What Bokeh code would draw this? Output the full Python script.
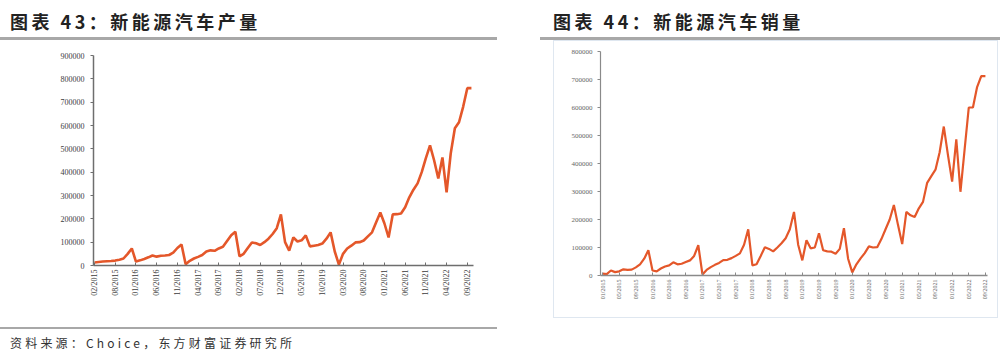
import math
from bokeh.plotting import figure
from bokeh.layouts import column, row
from bokeh.models import Div, Spacer, Range1d, FixedTicker, BasicTickFormatter
from bokeh.embed import file_html
from bokeh.resources import INLINE

# ---------------- data ----------------
prod_title = "图表 43：新能源汽车产量"
sales_title = "图表 44：新能源汽车销量"
source_text = "资料来源：Choice，东方财富证券研究所"

prod_values = [
    13000, 15000, 17000, 18000, 19000, 21000, 25000, 30000, 50000, 73000,
    17000, 22000, 28000, 35000, 43000, 38000, 42000, 43000, 45000, 55000,
    75000, 90000, 5000, 20000, 30000, 37000, 45000, 60000, 65000, 63000,
    73000, 80000, 105000, 130000, 145000, 39000, 50000, 75000, 99000, 95000,
    88000, 100000, 115000, 135000, 160000, 219000, 100000, 64000, 120000, 103000,
    108000, 129000, 82000, 85000, 88000, 94000, 115000, 142000, 60000, 4000,
    50000, 73000, 85000, 99000, 100000, 107000, 125000, 142000, 185000, 227000,
    180000, 120000, 219000, 220000, 223000, 250000, 292000, 325000, 352000, 400000,
    460000, 515000, 450000, 373000, 463000, 313000, 480000, 588000, 614000, 680000,
    760000, 760000,
]
prod_tick_labels = [
    "02/2015", "08/2015", "01/2016", "06/2016", "11/2016", "04/2017", "09/2017",
    "02/2018", "07/2018", "12/2018", "05/2019", "10/2019", "03/2020", "08/2020",
    "01/2021", "06/2021", "11/2021", "04/2022", "09/2022",
]
prod_y_ticks = [0, 100000, 200000, 300000, 400000, 500000, 600000, 700000, 800000, 900000]

sales_values = [
    7000, 5000, 18000, 12000, 15000, 22000, 20000, 21000, 29000, 40000,
    60000, 90000, 18000, 15000, 25000, 32000, 36000, 47000, 40000, 42000,
    48000, 54000, 70000, 108000, 4000, 20000, 30000, 38000, 45000, 55000,
    56000, 62000, 70000, 79000, 110000, 165000, 36000, 40000, 70000, 101000,
    95000, 86000, 100000, 115000, 133000, 165000, 227000, 110000, 54000, 126000,
    97000, 100000, 151000, 90000, 86000, 85000, 78000, 95000, 169000, 60000,
    11000, 40000, 61000, 80000, 104000, 100000, 101000, 130000, 165000, 200000,
    252000, 180000, 112000, 227000, 215000, 209000, 240000, 263000, 331000, 355000,
    378000, 440000, 532000, 430000, 335000, 486000, 299000, 450000, 600000, 600000,
    673000, 712000, 712000,
]
sales_tick_labels = [
    "01/2015", "05/2015", "09/2015", "01/2016", "05/2016", "09/2016",
    "01/2017", "05/2017", "09/2017", "01/2018", "05/2018", "09/2018",
    "01/2019", "05/2019", "09/2019", "01/2020", "05/2020", "09/2020",
    "01/2021", "05/2021", "09/2021", "01/2022", "05/2022", "09/2022",
]
sales_y_ticks = [0, 100000, 200000, 300000, 400000, 500000, 600000, 700000, 800000]

LINE_COLOR = "#E4572A"


def style_axes(p, label_font_size, axis_color, label_color):
    p.xgrid.visible = False
    p.ygrid.visible = False
    p.outline_line_color = None
    for ax in (p.xaxis[0], p.yaxis[0]):
        ax.axis_line_color = axis_color
        ax.major_tick_line_color = axis_color
        ax.minor_tick_line_color = None
        ax.major_label_text_font = "Liberation Serif"
        ax.major_label_text_font_size = label_font_size
        ax.major_label_text_color = label_color
        ax.axis_label_text_font_size = "0px"
        ax.axis_label_standoff = 0
    p.yaxis[0].major_tick_in = 0
    p.yaxis[0].major_tick_out = 3
    p.xaxis[0].major_tick_in = 3
    p.xaxis[0].major_tick_out = 0
    p.xaxis[0].major_label_orientation = math.pi / 2
    p.yaxis[0].formatter = BasicTickFormatter(use_scientific=False)


# ---------------- left chart: production ----------------
x1 = list(range(len(prod_values)))
p1 = figure(frame_width=380, frame_height=210, output_backend="svg",
            toolbar_location=None, title=None, margin=0,
            x_range=Range1d(-0.25, len(prod_values) - 0.5),
            y_range=Range1d(0, prod_y_ticks[-1]),
            min_border_left=93, min_border_right=27, min_border_top=15,
            min_border_bottom=58)
p1.line(x1, prod_values, line_color=LINE_COLOR, line_width=2.6)
style_axes(p1, "8px", "#6e6e6e", "#3c3c3c")
p1.xaxis[0].axis_line_width = 1.5
p1.yaxis[0].axis_line_width = 1.5
p1.xaxis[0].ticker = FixedTicker(ticks=[i * 5 for i in range(len(prod_tick_labels))])
p1.xaxis[0].major_label_overrides = {i * 5: s for i, s in enumerate(prod_tick_labels)}
p1.xaxis[0].major_label_standoff = 4
p1.yaxis[0].ticker = FixedTicker(ticks=prod_y_ticks)
p1.yaxis[0].major_label_standoff = 6

# ---------------- right chart: sales ----------------
x2 = list(range(len(sales_values)))
p2 = figure(frame_width=385, frame_height=222, output_backend="svg",
            toolbar_location=None, title=None, margin=0,
            x_range=Range1d(-0.5, len(sales_values) - 0.5),
            y_range=Range1d(0, sales_y_ticks[-1]),
            min_border_left=46, min_border_right=12, min_border_top=10,
            min_border_bottom=44,
            styles={"border": "1px solid #dfe7f0"})
p2.line(x2, sales_values, line_color=LINE_COLOR, line_width=2.2)
style_axes(p2, "7px", "#8a8a8a", "#666666")
p2.xaxis[0].axis_line_width = 1.5
p2.yaxis[0].axis_line_width = 1.2
p2.xaxis[0].ticker = FixedTicker(ticks=[i * 4 for i in range(len(sales_tick_labels))])
p2.xaxis[0].major_label_overrides = {i * 4: s for i, s in enumerate(sales_tick_labels)}
p2.xaxis[0].major_label_text_font_size = "6px"
p2.xaxis[0].major_label_standoff = 4
p2.yaxis[0].ticker = FixedTicker(ticks=sales_y_ticks)
p2.yaxis[0].major_label_standoff = 5

# ---------------- titles / source ----------------
TITLE_STYLE = ("box-sizing:border-box;padding-top:8px;height:40px;line-height:26px;"
               "border-bottom:3px solid #a8a8a8;"
               "font-family:'Noto Sans CJK SC';font-weight:bold;font-size:18px;"
               "letter-spacing:3.5px;color:#222;white-space:nowrap;")
t1 = Div(text=f'<div style="{TITLE_STYLE}padding-left:10px;width:497px;">{prod_title}</div>',
         width=500, height=40, margin=0)
t2 = Div(text=f'<div style="{TITLE_STYLE}padding-left:13px;width:460px;">{sales_title}</div>',
         width=460, height=40, margin=0)
src = Div(text=('<div style="margin-top:4px;border-top:2px solid #a8a8a8;width:497px;'
                'padding-top:5px;font-family:\'Noto Sans CJK SC\';font-size:12px;line-height:17px;'
                f'letter-spacing:3.2px;color:#333;padding-left:10px;box-sizing:border-box;">{source_text}</div>'),
          width=500, height=34, margin=0)

left_col = column(t1, p1, src, margin=0)
right_col = column(t2, row(Spacer(width=13, height=10), p2, margin=0), margin=0)
layout = row(left_col, Spacer(width=40, height=10), right_col, margin=0)

open("out.html", "w").write(file_html(layout, INLINE))
